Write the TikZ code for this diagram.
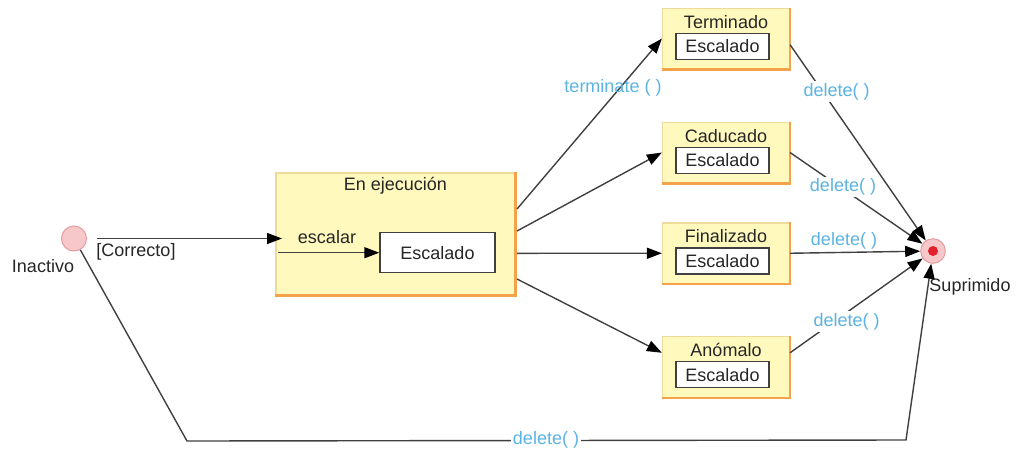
\documentclass[tikz,border=0pt]{standalone}
\usepackage{fontspec}
\setmainfont{Liberation Sans}
\usetikzlibrary{arrows.meta,calc}
\definecolor{boxfill}{HTML}{FFF9BE}
\definecolor{boxedge}{HTML}{EEDB9C}
\definecolor{boxshadow}{HTML}{F5A34A}
\definecolor{lbl}{HTML}{5AB3E2}
\definecolor{linec}{HTML}{404040}
\definecolor{pinkf}{HTML}{F6C8CA}
\definecolor{pinkd}{HTML}{E49CA0}
\definecolor{redd}{HTML}{E3202B}
\newcommand\mkstate[3]{%
  \node[statebox] (#1) at (726,{#2+30.25}) {};
  \draw[boxshadow, line width=2.5pt] (#1.north east) -- (#1.south east) -- (#1.south west);
  \node[plain] (#1-t) at (726,{#2+13.5}) {#3};
  \node[innerbox] (#1-e) at (722.5,{#2+38}) {Escalado};
}
\begin{document}
\begin{tikzpicture}[x=1pt,y=-1pt, font=\fontsize{18}{20}\selectfont,
  statebox/.style={draw=boxedge, fill=boxfill, line width=1.2pt, inner sep=0, minimum width=127pt, minimum height=60.5pt},
  innerbox/.style={draw=linec, fill=white, line width=1.4pt, inner sep=0, minimum width=93pt, minimum height=26pt, text=black!85},
  edge/.style={draw=linec, line width=1.4pt},
  arr/.style={edge, -{Triangle[length=15pt,width=11pt,color=black]}},
  lab/.style={text=lbl, inner sep=2pt},
  labw/.style={lab, fill=white},
  plain/.style={inner sep=0, text=black!85}
]
\useasboundingbox (0,0) rectangle (1021,451);

% initial state
\node[circle, draw=pinkd, fill=pinkf, line width=1pt, minimum size=25pt, inner sep=0] (inact) at (74,238.5) {};
\node[plain] (inactl) at (43,266) {Inactivo};

% running composite state
\node[statebox, minimum width=239pt, minimum height=122pt] (run) at (395.5,234) {};
\draw[boxshadow, line width=2.5pt] (run.north east) -- (run.south east) -- (run.south west);
\node[plain] (run-t) at (395.5,186) {En ejecución};
\node[innerbox, minimum width=115pt, minimum height=40pt] (run-e) at (437.5,252.7) {Escalado};

% right states
\mkstate{term}{8.3}{Terminado}
\mkstate{cad}{122.3}{Caducado}
\mkstate{fin}{223}{Finalizado}
\mkstate{anom}{336.7}{Anómalo}

% final state
\node[circle, draw=pinkd, fill=pinkf, line width=1pt, minimum size=24.6pt, inner sep=0] (sup) at (933,251) {};
\node[circle, fill=redd, minimum size=10pt, inner sep=0] (supdot) at (sup.center) {};
\node[plain] (supl) at (970,287) {Suprimido};

% connectors
\coordinate (runin) at (282,238.5);
\draw[arr, shorten <=10pt] (inact.east) -- (runin);
\node[plain] (corr) at (136,252) {[Correcto]};

\coordinate (escin) at (278,252.7);
\draw[arr] (escin) -- (run-e.west);
\node[plain] (esc) at (327,237) {escalar};

\coordinate (r1) at (517,209);
\coordinate (r2) at (517,231);
\coordinate (r3) at (517,253.3);
\coordinate (r4) at (517,279);
\draw[arr] (r1) -- (term.west);
\draw[arr] (r2) -- (cad.west);
\draw[arr] (r3) -- (fin.west);
\draw[arr] (r4) -- ($(anom.north west)!0.27!(anom.south west)$);

\draw[arr] ($(term.north east)!0.6!(term.south east)$) -- (sup);
\draw[arr] (cad.east) -- (sup);
\draw[arr] (fin.east) -- (sup);
\draw[arr] ($(anom.north east)!0.27!(anom.south east)$) -- (sup);

\coordinate (bl) at (187,441);
\coordinate (br) at (906,440);
\draw[arr] (inact) -- (bl) -- (br) -- (sup);

% labels
\node[lab] (lterm) at (613,88) {terminate ( )};
\node[labw] (ld1) at (836.7,91.7) {delete( )};
\node[labw] (ld2) at (843,187) {delete( )};
\node[lab] (ld3) at (844,240.5) {delete( )};
\node[labw] (ld4) at (846.7,321.7) {delete( )};
\node[labw] (ld5) at (546,440) {delete( )};
\end{tikzpicture}
\end{document}
